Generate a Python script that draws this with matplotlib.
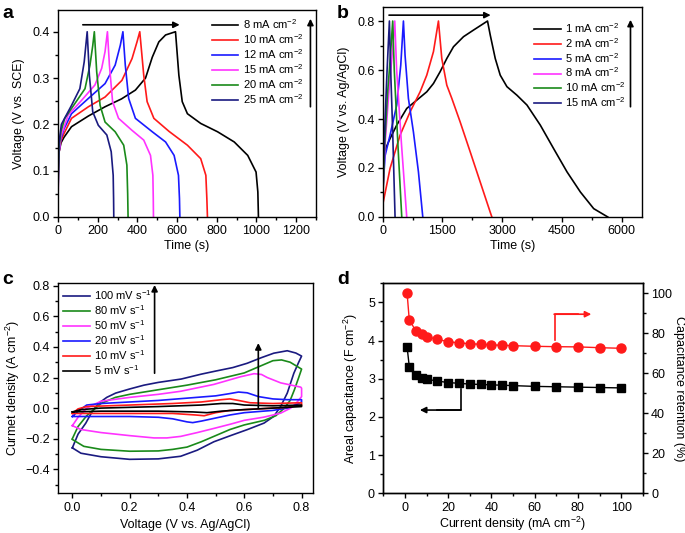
import matplotlib
matplotlib.use("Agg")
import matplotlib.pyplot as plt
from matplotlib.ticker import MultipleLocator

plt.rcParams['font.family'] = ['Liberation Sans', 'DejaVu Sans']
plt.rcParams['mathtext.fontset'] = 'custom'
plt.rcParams['mathtext.rm'] = 'Liberation Sans'
plt.rcParams['mathtext.it'] = 'Liberation Sans:italic'
plt.rcParams['mathtext.bf'] = 'Liberation Sans:bold'
plt.rcParams['axes.linewidth'] = 1.0
plt.rcParams['xtick.direction'] = 'out'
plt.rcParams['ytick.direction'] = 'out'

# ---------------- Panel a: GCD curves (time s, voltage V vs SCE) -------------
a_labels = ["8 mA cm$^{-2}$", "10 mA cm$^{-2}$", "12 mA cm$^{-2}$",
            "15 mA cm$^{-2}$", "20 mA cm$^{-2}$", "25 mA cm$^{-2}$"]
a_t_8 = [0, 5, 15, 30, 68, 153, 237, 320, 390, 441, 475, 508, 542, 592, 609, 626, 652, 719, 804, 888, 956, 998, 1007, 1010]
a_v_8 = [0.12, 0.14, 0.16, 0.172, 0.195, 0.218, 0.238, 0.255, 0.274, 0.3, 0.345, 0.378, 0.393, 0.4, 0.306, 0.249, 0.223, 0.202, 0.184, 0.162, 0.133, 0.097, 0.054, 0.0]
a_t_10 = [0, 5, 15, 30, 68, 153, 237, 322, 373, 398, 412, 432, 449, 483, 559, 652, 719, 745, 750, 753]
a_v_10 = [0.1, 0.14, 0.165, 0.18, 0.213, 0.238, 0.259, 0.295, 0.342, 0.378, 0.4, 0.306, 0.249, 0.213, 0.185, 0.155, 0.126, 0.09, 0.04, 0.0]
a_t_12 = [0, 5, 15, 30, 68, 153, 237, 288, 314, 327, 339, 356, 390, 475, 542, 585, 607, 612, 614]
a_v_12 = [0.06, 0.14, 0.17, 0.19, 0.223, 0.256, 0.288, 0.328, 0.371, 0.4, 0.328, 0.256, 0.213, 0.184, 0.162, 0.133, 0.09, 0.04, 0.0]
a_t_15 = [0, 5, 15, 51, 119, 186, 220, 237, 249, 259, 275, 305, 373, 432, 466, 478, 480, 481]
a_v_15 = [0.04, 0.14, 0.175, 0.22, 0.252, 0.285, 0.321, 0.357, 0.4, 0.328, 0.249, 0.213, 0.187, 0.166, 0.133, 0.09, 0.04, 0.0]
a_t_20 = [0, 5, 15, 34, 85, 136, 161, 175, 183, 195, 212, 237, 288, 331, 347, 351, 353]
a_v_20 = [0.05, 0.15, 0.185, 0.213, 0.245, 0.277, 0.328, 0.37, 0.4, 0.313, 0.241, 0.205, 0.184, 0.155, 0.112, 0.05, 0.0]
a_t_25 = [0, 5, 17, 68, 110, 132, 147, 158, 175, 203, 246, 268, 278, 280, 281]
a_v_25 = [0.08, 0.16, 0.2, 0.241, 0.277, 0.335, 0.4, 0.306, 0.227, 0.198, 0.177, 0.141, 0.09, 0.04, 0.0]

# ---------------- Panel b: GCD curves (time s, voltage V vs Ag/AgCl) ---------
b_labels = ["1 mA cm$^{-2}$", "2 mA cm$^{-2}$", "5 mA cm$^{-2}$",
            "8 mA cm$^{-2}$", "10 mA cm$^{-2}$", "15 mA cm$^{-2}$"]
b_t_1 = [0, 20, 184, 352, 603, 855, 1106, 1274, 1441, 1609, 1777, 2028, 2279, 2631, 2699, 2825, 2950, 3118, 3370, 3621, 3956, 4291, 4627, 4962, 5297, 5650]
b_v_1 = [0.03, 0.26, 0.32, 0.375, 0.443, 0.477, 0.511, 0.545, 0.593, 0.647, 0.695, 0.736, 0.763, 0.8, 0.743, 0.647, 0.579, 0.532, 0.497, 0.457, 0.375, 0.279, 0.184, 0.102, 0.034, 0.0]
b_t_2 = [0, 184, 436, 687, 939, 1106, 1274, 1399, 1483, 1609, 1735, 1944, 2196, 2447, 2698, 2740]
b_v_2 = [0.05, 0.198, 0.334, 0.429, 0.511, 0.579, 0.675, 0.8, 0.647, 0.538, 0.484, 0.388, 0.266, 0.143, 0.02, 0.0]
b_t_5 = [0, 60, 184, 352, 453, 520, 561, 645, 771, 897, 1006]
b_v_5 = [0.1, 0.25, 0.334, 0.457, 0.62, 0.8, 0.66, 0.484, 0.347, 0.184, 0.0]
b_t_8 = [0, 60, 150, 230, 302, 350, 470, 603]
b_v_8 = [0.08, 0.3, 0.5, 0.65, 0.8, 0.6, 0.3, 0.0]
b_t_10 = [0, 50, 120, 190, 251, 290, 380, 478]
b_v_10 = [0.05, 0.3, 0.5, 0.65, 0.8, 0.6, 0.3, 0.0]
b_t_15 = [0, 20, 60, 110, 168, 200, 250, 310]
b_v_15 = [0.02, 0.2, 0.4, 0.6, 0.8, 0.6, 0.35, 0.0]

# ---------------- Panel c: CV loops (V vs Ag/AgCl, A cm-2) -------------------
c_labels = ["100 mV s$^{-1}$", "80 mV s$^{-1}$", "50 mV s$^{-1}$",
            "20 mV s$^{-1}$", "10 mV s$^{-1}$", "5 mV s$^{-1}$"]
c_v_100 = [0, 0.02, 0.047, 0.07, 0.093, 0.12, 0.151, 0.2, 0.25, 0.3, 0.38, 0.45, 0.5, 0.56, 0.61, 0.66, 0.703, 0.75, 0.78, 0.8,
           0.79, 0.773, 0.75, 0.727, 0.703, 0.669, 0.61, 0.552, 0.494, 0.436, 0.378, 0.3, 0.2, 0.1, 0.03, 0]
c_i_100 = [-0.26, -0.17, -0.098, -0.02, 0.033, 0.07, 0.098, 0.125, 0.15, 0.168, 0.19, 0.222, 0.242, 0.265, 0.293, 0.33, 0.359, 0.375, 0.36, 0.34,
           0.3, 0.228, 0.098, 0.011, -0.054, -0.098, -0.141, -0.18, -0.22, -0.275, -0.315, -0.332, -0.335, -0.318, -0.295, -0.26]
c_v_80 = [0, 0.02, 0.05, 0.1, 0.15, 0.2, 0.3, 0.4, 0.5, 0.6, 0.65, 0.7, 0.73, 0.76, 0.8,
          0.79, 0.775, 0.76, 0.74, 0.71, 0.67, 0.6, 0.55, 0.5, 0.45, 0.4, 0.35, 0.3, 0.2, 0.1, 0.04, 0]
c_i_80 = [-0.2, -0.12, -0.05, 0.03, 0.07, 0.09, 0.12, 0.15, 0.185, 0.23, 0.27, 0.31, 0.315, 0.3, 0.255,
          0.2, 0.12, 0.05, 0.0, -0.05, -0.08, -0.11, -0.14, -0.18, -0.22, -0.255, -0.27, -0.28, -0.282, -0.27, -0.25, -0.205]
c_v_50 = [0, 0.02, 0.05, 0.1, 0.2, 0.3, 0.378, 0.494, 0.587, 0.634, 0.66, 0.68, 0.727, 0.797, 0.8,
          0.8, 0.78, 0.762, 0.727, 0.669, 0.6, 0.552, 0.5, 0.436, 0.378, 0.33, 0.285, 0.2, 0.1, 0.03, 0]
c_i_50 = [-0.115, -0.06, 0.0, 0.045, 0.07, 0.09, 0.11, 0.155, 0.205, 0.225, 0.22, 0.2, 0.165, 0.137, 0.13,
          0.075, 0.03, 0.0, -0.033, -0.059, -0.08, -0.105, -0.13, -0.16, -0.185, -0.195, -0.195, -0.18, -0.16, -0.14, -0.115]
c_v_20 = [0, 0.02, 0.05, 0.1, 0.2, 0.3, 0.4, 0.5, 0.55, 0.58, 0.61, 0.65, 0.7, 0.75, 0.8,
          0.8, 0.78, 0.75, 0.7, 0.6, 0.55, 0.5, 0.45, 0.42, 0.4, 0.35, 0.3, 0.2, 0.1, 0]
c_i_20 = [-0.055, -0.02, 0.02, 0.03, 0.04, 0.05, 0.065, 0.08, 0.095, 0.105, 0.1, 0.075, 0.06, 0.055, 0.055,
          0.04, 0.02, 0.0, -0.015, -0.03, -0.045, -0.065, -0.085, -0.095, -0.09, -0.07, -0.06, -0.055, -0.055, -0.055]
c_v_10 = [0, 0.02, 0.05, 0.2, 0.35, 0.45, 0.52, 0.55, 0.58, 0.62, 0.7, 0.8,
          0.8, 0.75, 0.65, 0.55, 0.5, 0.46, 0.43, 0.35, 0.2, 0.05, 0]
c_i_10 = [-0.035, -0.005, 0.01, 0.02, 0.03, 0.04, 0.055, 0.06, 0.05, 0.035, 0.03, 0.035,
          0.02, 0.005, -0.005, -0.015, -0.03, -0.05, -0.045, -0.035, -0.035, -0.035, -0.035]
c_v_5 = [0, 0.03, 0.1, 0.3, 0.45, 0.52, 0.56, 0.6, 0.7, 0.8,
         0.8, 0.7, 0.6, 0.52, 0.47, 0.42, 0.3, 0.1, 0]
c_i_5 = [-0.025, -0.01, 0.0, 0.01, 0.02, 0.03, 0.03, 0.02, 0.015, 0.02,
         0.01, 0.0, -0.01, -0.02, -0.03, -0.025, -0.02, -0.02, -0.025]

# ---------------- Panel d: rate capability ----------------------------------
d_current = [1, 2, 5, 8, 10, 15, 20, 25, 30, 35, 40, 45, 50, 60, 70, 80, 90, 100]
d_areal = [3.83, 3.32, 3.11, 3.03, 2.99, 2.94, 2.90, 2.88, 2.86, 2.85, 2.84, 2.83, 2.82, 2.80, 2.79, 2.78, 2.77, 2.76]
d_retention = [100, 86.7, 81.3, 79.5, 78.3, 77.0, 75.8, 75.2, 74.8, 74.5, 74.2, 74.0, 73.8, 73.5, 73.3, 73.2, 72.8, 72.5]

# ---------------------------------------------------------------------------
colors = ['#000000', '#ff1a1a', '#1a1aff', '#ff33ff', '#1a8a1a', '#1a1a80']
TICK_FS = 9
LAB_FS = 9
LEG_FS = 8

fig = plt.figure(figsize=(6.85, 5.33), dpi=100)
axa = fig.add_axes([0.0847, 0.5929, 0.3766, 0.3884])
axb = fig.add_axes([0.5587, 0.5929, 0.378, 0.3934])
axc = fig.add_axes([0.0847, 0.0745, 0.3723, 0.394])
axd = fig.add_axes([0.5596, 0.0745, 0.3787, 0.394])


def style(ax):
    ax.tick_params(which='both', top=False, right=False, labelsize=TICK_FS, pad=2.5)
    ax.tick_params(which='major', length=3.5, width=1)
    ax.tick_params(which='minor', length=2, width=1)


def arrow(ax, x0, y0, x1, y1):
    ax.annotate('', xy=(x1, y1), xytext=(x0, y0),
                arrowprops=dict(arrowstyle='-|>', color='k', lw=1.2,
                                mutation_scale=9, shrinkA=0, shrinkB=0))


leg_kw = dict(loc='upper left', frameon=False, fontsize=LEG_FS, handlelength=2.4,
              handletextpad=0.4, labelspacing=0.1, borderpad=0, borderaxespad=0)

# Panel a
a_series = [(a_t_8, a_v_8), (a_t_10, a_v_10), (a_t_12, a_v_12),
            (a_t_15, a_v_15), (a_t_20, a_v_20), (a_t_25, a_v_25)]
for (t, v), c, lab in zip(a_series, colors, a_labels):
    axa.plot(t, v, color=c, lw=1.2, label=lab)
axa.set_xlim(0, 1300)
axa.set_ylim(0, 0.447)
axa.xaxis.set_major_locator(MultipleLocator(200))
axa.xaxis.set_minor_locator(MultipleLocator(100))
axa.yaxis.set_major_locator(MultipleLocator(0.1))
axa.yaxis.set_minor_locator(MultipleLocator(0.05))
axa.yaxis.set_major_formatter(plt.FormatStrFormatter('%.1f'))
axa.set_xlabel('Time (s)', fontsize=LAB_FS, labelpad=2)
axa.set_ylabel('Voltage (V vs. SCE)', fontsize=LAB_FS, labelpad=5)
style(axa)
axa.legend(bbox_to_anchor=(0.595, 0.965), **leg_kw)
arrow(axa, 125, 0.415, 613, 0.415)
arrow(axa, 1272, 0.238, 1272, 0.428)

# Panel b
b_series = [(b_t_1, b_v_1), (b_t_2, b_v_2), (b_t_5, b_v_5),
            (b_t_8, b_v_8), (b_t_10, b_v_10), (b_t_15, b_v_15)]
for (t, v), c, lab in zip(b_series, colors, b_labels):
    axb.plot(t, v, color=c, lw=1.2, label=lab)
axb.set_xlim(0, 6500)
axb.set_ylim(0, 0.856)
axb.xaxis.set_major_locator(MultipleLocator(1500))
axb.xaxis.set_minor_locator(MultipleLocator(750))
axb.yaxis.set_major_locator(MultipleLocator(0.2))
axb.yaxis.set_minor_locator(MultipleLocator(0.1))
axb.yaxis.set_major_formatter(plt.FormatStrFormatter('%.1f'))
axb.set_xlabel('Time (s)', fontsize=LAB_FS, labelpad=2)
axb.set_ylabel('Voltage (V vs. Ag/AgCl)', fontsize=LAB_FS, labelpad=5)
style(axb)
axb.legend(bbox_to_anchor=(0.585, 0.935), **leg_kw)
arrow(axb, 158, 0.824, 2710, 0.824)
arrow(axb, 6220, 0.45, 6220, 0.805)

# Panel c
c_series = [(c_v_100, c_i_100), (c_v_80, c_i_80), (c_v_50, c_i_50),
            (c_v_20, c_i_20), (c_v_10, c_i_10), (c_v_5, c_i_5)]
c_colors = ['#1a1a80', '#1a8a1a', '#ff33ff', '#1a1aff', '#ff1a1a', '#000000']
for (v, i), c, lab in zip(c_series, c_colors, c_labels):
    axc.plot(v, i, color=c, lw=1.2, label=lab)
axc.set_xlim(-0.05, 0.84)
axc.set_ylim(-0.557, 0.816)
axc.xaxis.set_major_locator(MultipleLocator(0.2))
axc.xaxis.set_minor_locator(MultipleLocator(0.1))
axc.yaxis.set_major_locator(MultipleLocator(0.2))
axc.yaxis.set_minor_locator(MultipleLocator(0.1))
axc.xaxis.set_major_formatter(plt.FormatStrFormatter('%.1f'))
axc.yaxis.set_major_formatter(plt.FuncFormatter(lambda x, p: ('%.1f' % x).replace('-', '\u2212')))
axc.set_xlabel('Voltage (V vs. Ag/AgCl)', fontsize=LAB_FS, labelpad=4)
axc.set_ylabel('Curmet density (A cm$^{-2}$)', fontsize=LAB_FS, labelpad=2)
style(axc)
axc.legend(bbox_to_anchor=(0.02, 0.975), **leg_kw)
arrow(axc, 0.287, 0.228, 0.287, 0.805)
arrow(axc, 0.649, 0.0, 0.649, 0.425)

# Panel d
axd.plot(d_current, d_areal, color='k', lw=1.0, marker='s', markersize=6)
axd.set_xlim(-10, 110)
axd.set_ylim(0, 5.5)
axd.xaxis.set_major_locator(MultipleLocator(20))
axd.xaxis.set_minor_locator(MultipleLocator(10))
axd.yaxis.set_major_locator(MultipleLocator(1))
axd.yaxis.set_minor_locator(MultipleLocator(0.5))
axd.set_xlabel('Current density (mA cm$^{-2}$)', fontsize=LAB_FS, labelpad=1)
axd.set_ylabel('Areal capacitance (F cm$^{-2}$)', fontsize=LAB_FS, labelpad=6)
style(axd)
axd2 = axd.twinx()
axd2.plot(d_current, d_retention, color='#ff1a1a', lw=1.0, marker='o', markersize=6.5)
axd2.set_ylim(0, 105)
axd2.yaxis.set_major_locator(MultipleLocator(20))
axd2.yaxis.set_minor_locator(MultipleLocator(10))
axd2.tick_params(which='both', labelsize=TICK_FS, pad=2.5)
axd2.tick_params(which='major', length=3.5, width=1)
axd2.tick_params(which='minor', length=2, width=1)
axd2.set_ylabel('Capacitance retention (%)', fontsize=LAB_FS, rotation=270, labelpad=9)
# L-shaped arrows
axd.plot([69.2, 69.2, 80], [4.01, 4.69, 4.69], color='#ff1a1a', lw=1.2)
axd.annotate('', xy=(86.2, 4.69), xytext=(69.0, 4.69),
             arrowprops=dict(arrowstyle='-|>', color='#ff1a1a', lw=1.2,
                             mutation_scale=9, shrinkA=0, shrinkB=0))
axd.plot([25.7, 25.7, 15], [2.72, 2.18, 2.18], color='k', lw=1.2)
axd.annotate('', xy=(6.9, 2.18), xytext=(25.9, 2.18),
             arrowprops=dict(arrowstyle='-|>', color='k', lw=1.2,
                             mutation_scale=9, shrinkA=0, shrinkB=0))

# Panel letters
for x, y, s in [(0.004, 0.99, 'a'), (0.492, 0.99, 'b'),
                (0.004, 0.492, 'c'), (0.492, 0.492, 'd')]:
    fig.text(x, y, s, fontsize=14, fontweight='bold', va='top', ha='left')

fig.savefig('out.png', dpi=100)
